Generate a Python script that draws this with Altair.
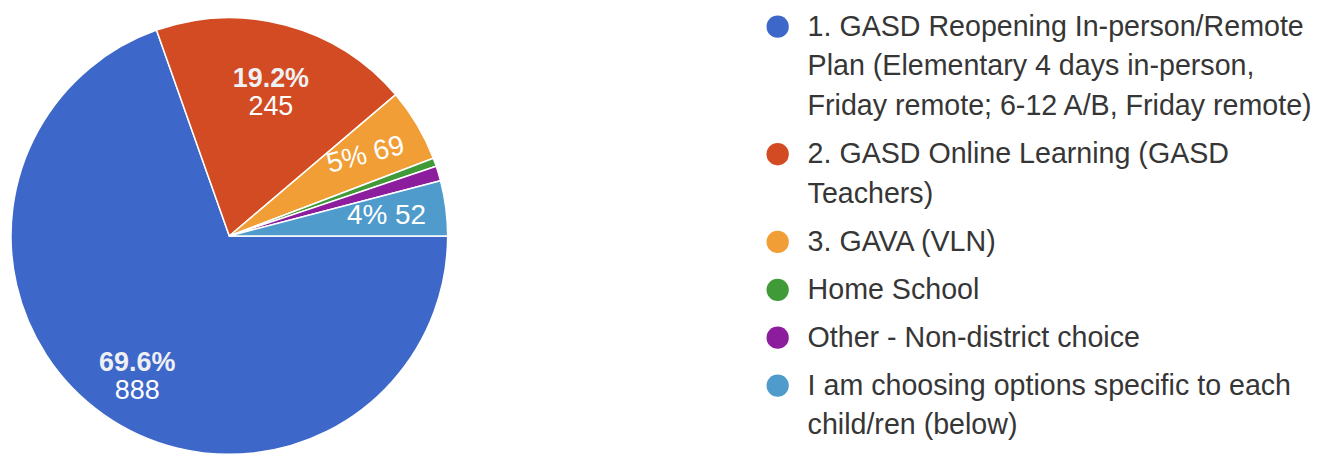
import altair as alt
import pandas as pd

# --- data ---
categories = [
    "1. GASD Reopening In-person/Remote\nPlan (Elementary 4 days in-person,\nFriday remote; 6-12 A/B, Friday remote)",
    "2. GASD Online Learning (GASD\nTeachers)",
    "3. GAVA (VLN)",
    "Home School",
    "Other - Non-district choice",
    "I am choosing options specific to each\nchild/ren (below)",
]
counts = [888, 245, 69, 8, 14, 52]
colors = ["#3d67c8", "#d24b22", "#f09e35", "#3f9a37", "#8c1d9d", "#4f9bcb"]

FONT = "Liberation Sans"
PI = 3.141592653589793

df = pd.DataFrame({"category": categories, "count": counts, "idx": list(range(len(categories)))})

# legend rows derived from the category texts (one row per wrapped line)
rows = []
g = 0
for i, cat in enumerate(categories):
    for j, line in enumerate(cat.split("\n")):
        rows.append({"category": cat, "item": i, "line": j, "text": line, "slot": g + 0.2 * i})
        g += 1
leg = pd.DataFrame(rows)
n_slots = g

color_scale = alt.Scale(domain=categories, range=colors)
theta_scale = alt.Scale(range=[PI / 2, PI / 2 + 2 * PI])

base = alt.Chart(df).transform_joinaggregate(
    total="sum(count)"
).transform_window(
    cum="sum(count)", sort=[alt.SortField("idx")], frame=[None, 0]
).transform_calculate(
    frac="datum.count / datum.total",
    mid="(90 + (datum.cum - datum.count / 2) / datum.total * 360) % 360",
).transform_calculate(
    pct1="datum.frac >= 0.1 ? format(datum.frac, '.1%') : ''",
    cnt1="datum.frac >= 0.1 ? format(datum.count, 'd') : ''",
    single="(datum.frac >= 0.02 && datum.frac < 0.1) ? format(datum.frac, '.0%') + ' ' + format(datum.count, 'd') : ''",
    rot="abs(datum.mid - 90) > 15 ? (datum.mid - 90 + 360) % 360 : 0",
)

theta = alt.Theta("count:Q", stack=True, scale=theta_scale)
order = alt.Order("idx:Q", sort="ascending")

arcs = base.mark_arc(outerRadius=219, stroke="white", strokeWidth=1.5).encode(
    theta=theta,
    order=order,
    color=alt.Color("category:N", scale=color_scale, legend=None),
)

pct_text = base.mark_text(
    radius=160, dy=-3, font=FONT, fontSize=27, fontWeight="bold", color="#eef0f4"
).encode(theta=theta, order=order, detail="category:N", text="pct1:N")

cnt_text = base.mark_text(
    radius=160, dy=25, font=FONT, fontSize=27, color="white"
).encode(theta=theta, order=order, detail="category:N", text="cnt1:N")

single_text = base.mark_text(
    radius=159, font=FONT, fontSize=28, color="white"
).encode(theta=theta, order=order, detail="category:N", text="single:N", angle="rot:Q")

pie = alt.layer(arcs, pct_text, cnt_text, single_text).properties(width=442, height=440)

yscale = alt.Scale(domain=[-0.25, n_slots + 0.75], reverse=True)

leg_base = alt.Chart(leg)
dots = leg_base.transform_filter("datum.line == 0").mark_point(
    filled=True, shape="circle", size=500, opacity=1
).encode(
    x=alt.value(11),
    y=alt.Y("slot:Q", scale=yscale, axis=None),
    color=alt.Color("category:N", scale=color_scale, legend=None),
)
labels = leg_base.mark_text(
    align="left", baseline="middle", font=FONT, fontSize=28.7, color="#363636"
).encode(
    x=alt.value(41),
    y=alt.Y("slot:Q", scale=yscale, axis=None),
    text="text:N",
)
legend = alt.layer(dots, labels).properties(width=560, height=440)

chart = alt.hconcat(pie, legend, spacing=316).properties(
    padding={"left": 0, "top": 4, "right": 0, "bottom": 0},
).configure_view(strokeWidth=0)

chart.save("out.html", embed_options={"renderer": "svg", "actions": False})
